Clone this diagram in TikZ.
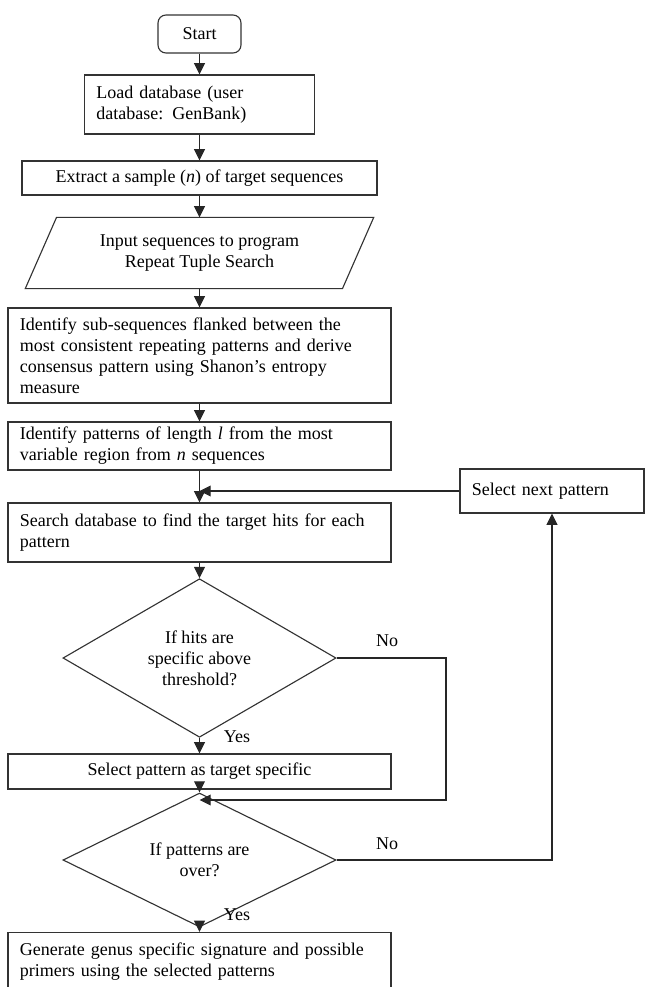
\documentclass[tikz,border=0pt]{standalone}
\usepackage{fontspec}
\setmainfont{Liberation Serif}
\usetikzlibrary{shapes.geometric,arrows.meta}

\begin{document}
\begin{tikzpicture}[x=0.025cm, y=-0.025cm,
	every node/.style={font=\fontsize{12.8}{15}\selectfont},
	stepbox/.style={draw=black!80, line width=0.8pt, inner xsep=0.3cm, inner ysep=0pt, align=left},
	midbox/.style={draw=black!80, line width=0.8pt, inner sep=0pt, align=center},
	decision/.style={diamond, draw=black!80, line width=0.8pt, inner sep=0pt, align=center, minimum width=6.825cm},
	arr/.style={draw=black!85, line width=0.8pt, -{Triangle[length=0.28cm, width=0.27cm]}}]
	\useasboundingbox (0,0) rectangle (647,987);
	\clip (0,0) rectangle (647,987);
			% main column
			\node[midbox, rounded corners=0.2cm, minimum width=2.075cm, minimum height=0.95cm] (start) at (199.5,34) {Start};
			\node[stepbox, text width=5.15cm, minimum height=1.475cm] (load) at (199.5,104.5) {Load database (user\\database:\ \,GenBank)};
			\node[midbox, minimum width=8.875cm, minimum height=0.85cm] (extract) at (199.5,178) {Extract a sample (\textit{n}) of target sequences};
			\node[midbox, draw=none, minimum width=7.9cm, minimum height=1.75cm] (inp) at (199.5,253) {Input sequences to program\\Repeat Tuple Search};
			\draw[black!80, line width=0.8pt] ([xshift=0.39cm]inp.north west) -- ([xshift=0.39cm]inp.north east) -- ([xshift=-0.39cm]inp.south east) -- ([xshift=-0.39cm]inp.south west) -- cycle;
			\node[stepbox, text width=8.975cm, minimum height=2.375cm] (subseq) at (199.5,355.5) {Identify sub-sequences flanked between the\\most consistent repeating patterns and derive\\consensus pattern using Shanon's entropy\\measure};
			\node[stepbox, text width=8.975cm, minimum height=1.2cm] (pats) at (199.5,446) {Identify patterns of length \textit{l} from the most\\variable region from \textit{n} sequences};
			\node[stepbox, text width=8.975cm, minimum height=1.475cm] (search) at (199.5,532.5) {Search database to find the target hits for each\\pattern};
			\node[decision, minimum height=3.575cm] (hits) at (199.5,658) {If hits are\\specific above\\threshold?};
			\node[midbox, minimum width=9.575cm, minimum height=0.875cm] (select) at (199.5,771.5) {Select pattern as target specific};
			\node[decision, minimum height=2.45cm] (over) at (199.5,860) {If patterns are\\over?};
			\node[stepbox, text width=8.975cm, minimum height=1.475cm] (generate) at (199.5,962) {Generate genus specific signature and possible\\primers using the selected patterns};
			% loop back
			\node[stepbox, text width=4.0cm, minimum height=1.1cm] (nextpat) at (552,491) {Select next pattern};
			\coordinate (join1) at (199.5,800);
			\coordinate (elbow1) at (446,800);
			\draw[arr] (start) -- (load);
			\draw[arr] (load) -- (extract);
			\draw[arr] (extract) -- (inp);
			\draw[arr] (inp) -- (subseq);
			\draw[arr] (subseq) -- (pats);
			\draw[arr] (pats) -- (search);
			\draw[arr] (nextpat.west) -- (pats.south |- nextpat.west);
			\draw[arr] (search) -- (hits);
			\draw[arr] (hits) -- (select);
			\draw[arr] (hits.east) -| (elbow1) -- (join1);
			\draw[arr] (select) -- (over);
			\draw[arr] (over) -- (generate);
			\draw[arr] (over.east) -| (nextpat.south);
			\node (no1) at (387,641) {No};
			\node (yes1) at (237,737) {Yes};
			\node (no2) at (387,844) {No};
			\node (yes2) at (237,915) {Yes};
		\end{tikzpicture}
\end{document}
